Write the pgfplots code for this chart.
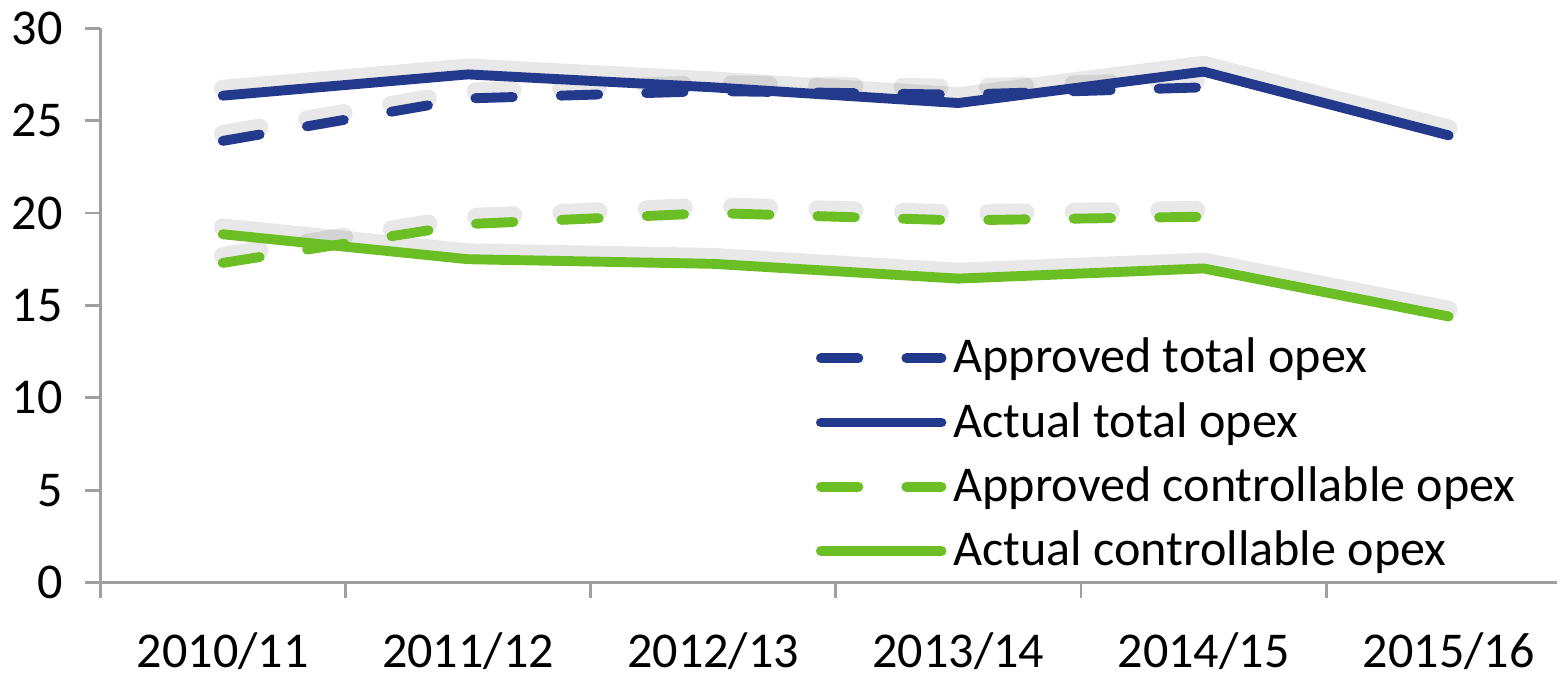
\documentclass[border=0pt]{standalone}
\usepackage{fontspec}
\setmainfont{Carlito}
\usepackage{pgfplots}
\usepackage{pgfplotstable}
\pgfplotsset{compat=1.18}
\definecolor{navy}{RGB}{35,58,140}
\definecolor{lgreen}{RGB}{107,190,35}
\definecolor{axgray}{RGB}{160,160,160}

% x: 0 = 2010/11 ... 5 = 2015/16
\pgfplotstableread{
x y
0 23.9
1 26.2
2 26.6
3 26.4
4 26.8
}\apptotal
\pgfplotstableread{
x y
0 26.35
1 27.5
2 26.8
3 25.95
4 27.65
5 24.2
}\acttotal
\pgfplotstableread{
x y
0 17.3
1 19.4
2 20.0
3 19.6
4 19.8
}\appctrl
\pgfplotstableread{
x y
0 18.85
1 17.5
2 17.25
3 16.45
4 17.0
5 14.4
}\actctrl

\begin{document}
\begin{tikzpicture}
\begin{axis}[
  scale only axis, width=14.5cm, height=5.52cm,
  xmin=-0.5, xmax=5.44, ymin=0, ymax=30,
  ytick={0,5,...,30},
  xtick={0,...,5},
  xticklabels={2010/11,2011/12,2012/13,2013/14,2014/15,2015/16},
  minor xtick={-0.5,0.5,...,4.5},
  axis x line*=bottom, axis y line*=left,
  axis line style={axgray, line width=0.8pt, -},
  tick style={axgray, line width=0.8pt},
  major x tick style={draw=none},
  major tick length=0.15cm, minor tick length=0.15cm,
  tick align=outside,
  ticklabel style={font=\fontsize{14.2}{17}\selectfont},
  xticklabel style={yshift=-0.22cm},
  yticklabel style={xshift=-0.1cm},
  /pgf/number format/assume math mode=true,
  legend style={at={(rel axis cs:0.491,0.455)}, anchor=north west,
    draw=none, fill=none, font=\fontsize{14.2}{17}\selectfont,
    row sep=0.1cm, inner sep=0pt,
    /tikz/every even column/.append style={column sep=0pt}},
  legend cell align=left,
  legend image code/.code={\draw[#1] (0cm,0cm) -- (1.2cm,0cm);},
  shadow/.style={forget plot, black, opacity=0.09, line width=5pt,
    line cap=round, line join=round, transform canvas={yshift=2pt}},
  dashy/.style={dash pattern=on 10.6pt off 13.6pt},
]
\addplot[shadow, dashy] table {\apptotal};
\addplot[shadow] table {\acttotal};
\addplot[shadow, dashy] table {\appctrl};
\addplot[shadow] table {\actctrl};

\addplot[navy, line width=2.8pt, line cap=round, line join=round, dashy] table {\apptotal};
\addlegendentry{Approved total opex}
\addplot[navy, line width=2.8pt, line cap=round, line join=round] table {\acttotal};
\addlegendentry{Actual total opex}
\addplot[lgreen, line width=2.8pt, line cap=round, line join=round, dashy] table {\appctrl};
\addlegendentry{Approved controllable opex}
\addplot[lgreen, line width=2.8pt, line cap=round, line join=round] table {\actctrl};
\addlegendentry{Actual controllable opex}
\end{axis}
\end{tikzpicture}
\end{document}
